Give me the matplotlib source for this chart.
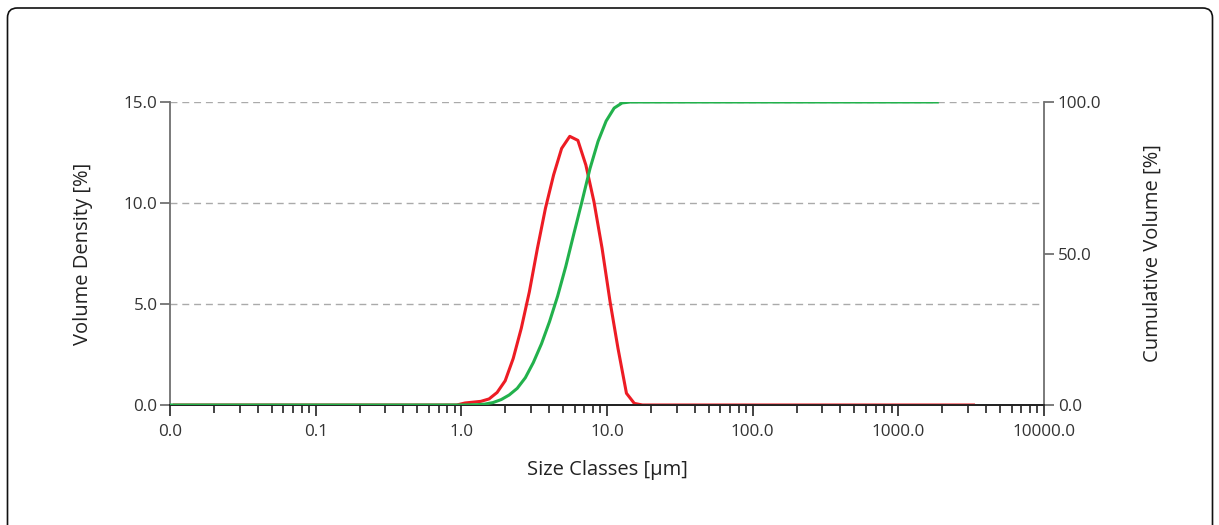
import matplotlib
matplotlib.use("Agg")
import matplotlib.pyplot as plt
from matplotlib.ticker import FixedLocator, FuncFormatter, LogLocator, NullFormatter
from matplotlib.patches import FancyBboxPatch

# ---- data ----
density_size = [0.0107, 0.93, 1.06, 1.20, 1.36, 1.55, 1.76, 2.00, 2.27, 2.58, 2.93,
                3.33, 3.78, 4.30, 4.88, 5.55, 6.31, 7.16, 8.14, 9.25, 10.5, 11.9,
                13.6, 15.4, 17.5, 3280]
density_vals = [0.0, 0.0, 0.10, 0.14, 0.18, 0.30, 0.62, 1.20, 2.30, 3.80, 5.60,
                7.76, 9.74, 11.39, 12.70, 13.30, 13.10, 11.88, 10.06, 7.76, 5.11, 2.80,
                0.58, 0.08, 0.0, 0.0]

cum_size = [0.01, 0.991, 1.13, 1.28, 1.45, 1.65, 1.88, 2.13, 2.42, 2.75, 3.12, 3.55,
            4.03, 4.58, 5.21, 5.92, 6.72, 7.64, 8.68, 9.86, 11.2, 12.7, 14.5, 1850]
cum_vals = [0.0, 0.0, 0.05, 0.1, 0.3, 0.8, 1.8, 3.3, 5.5, 9.0, 14.0, 20.2,
            27.5, 35.9, 45.7, 56.5, 67.0, 78.0, 87.0, 93.7, 98.0, 99.7, 100.0, 100.0]

x_ticks = [0.01, 0.1, 1, 10, 100, 1000, 10000]
left_ticks = [0, 5, 10, 15]
right_ticks = [0, 50, 100]

plt.rcParams['font.family'] = ['Open Sans', 'DejaVu Sans']

W, H = 1219, 525
fig = plt.figure(figsize=(W / 100, H / 100), dpi=100)

# rounded frame
frame = FancyBboxPatch((7.5 / W, -0.2), (1212.5 - 7.5) / W, (517 + 105) / H,
                       boxstyle="round,pad=0,rounding_size=0.008",
                       transform=fig.transFigure, fill=False,
                       edgecolor='#111111', linewidth=1.2, mutation_aspect=W / H)
fig.patches.append(frame)

ax = fig.add_axes([170 / W, 1 - 405 / H, (1044 - 170) / W, (405 - 102) / H])
ax2 = ax.twinx()

red = '#ED1C24'
green = '#22B14C'

ax.plot(density_size, density_vals, color=red, lw=2.2, zorder=3)
ax2.plot(cum_size, cum_vals, color=green, lw=2.2, zorder=4)

ax.set_xscale('log')
ax.set_xlim(0.01, 10000)
ax.set_ylim(0, 15)
ax2.set_ylim(0, 100)

# grid
for v in [5, 10, 15]:
    ax.axhline(v, color='#aaaaaa', lw=1.0, ls=(0, (5, 3.5)), zorder=1)

tick_fs = 12.3
label_fs = 14.5

# x axis ticks
ax.xaxis.set_major_locator(FixedLocator(x_ticks))
ax.xaxis.set_major_formatter(FuncFormatter(lambda v, p: f"{v:.1f}"))
ax.xaxis.set_minor_locator(LogLocator(base=10, subs=range(2, 10), numticks=20))
ax.xaxis.set_minor_formatter(NullFormatter())
ax.tick_params(axis='x', which='major', length=8, width=1.2, color='#222222',
               direction='out', labelsize=tick_fs, pad=6, labelcolor='#333333')
ax.tick_params(axis='x', which='minor', length=5.5, width=1.2, color='#222222', direction='out')

ax.set_yticks(left_ticks)
ax.yaxis.set_major_formatter(FuncFormatter(lambda v, p: f"{v:.1f}"))
ax.tick_params(axis='y', length=7, width=1.2, color='#666666', labelsize=tick_fs,
               pad=2, labelcolor='#333333')
ax2.set_yticks(right_ticks)
ax2.yaxis.set_major_formatter(FuncFormatter(lambda v, p: f"{v:.1f}"))
ax2.tick_params(axis='y', length=7, width=1.2, color='#666666', labelsize=tick_fs,
                pad=3, labelcolor='#333333')

for a in (ax, ax2):
    a.spines['top'].set_visible(False)
    a.spines['left'].set_color('#707070')
    a.spines['right'].set_color('#707070')
    a.spines['left'].set_linewidth(1.3)
    a.spines['right'].set_linewidth(1.3)
    a.spines['bottom'].set_color('#222222')
    a.spines['bottom'].set_linewidth(1.3)
ax2.spines['left'].set_visible(False)
ax.spines['right'].set_visible(False)

ax.set_xlabel('Size Classes [µm]', fontsize=label_fs, color='#222222', labelpad=14)
ax.set_ylabel('Volume Density [%]', fontsize=label_fs, color='#222222', labelpad=22)
ax2.set_ylabel('Cumulative Volume [%]', fontsize=label_fs, color='#222222', labelpad=30)

ax.patch.set_visible(False)
ax2.set_zorder(ax.get_zorder() + 1)

fig.savefig('out.png', dpi=100)
